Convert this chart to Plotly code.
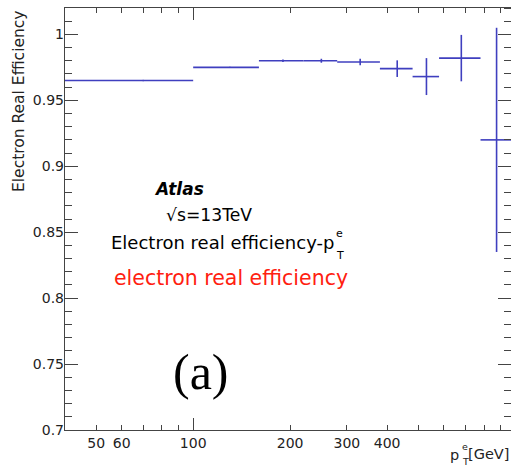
import math
import plotly.graph_objects as go

# Bin edges in electron pT [GeV] and the measured real efficiency per bin
pt_edges = [40, 100, 160, 220, 280, 380, 480, 580, 780, 970]
efficiency = [0.965, 0.975, 0.980, 0.980, 0.979, 0.974, 0.968, 0.982, 0.920]
eff_error = [0.0005, 0.0005, 0.001, 0.0015, 0.0025, 0.0063, 0.014, 0.0176, 0.085]

x_ticks = [50, 60, 70, 80, 90, 100, 200, 300, 400, 500, 600, 700, 800, 900]
x_labeled = [50, 60, 100, 200, 300, 400]
y_major = [0.7, 0.75, 0.8, 0.85, 0.9, 0.95, 1.0]
y_labels = ["0.7", "0.75", "0.8", "0.85", "0.9", "0.95", "1"]
y_minor = [round(0.70 + 0.01 * i, 2) for i in range(33)]

W, H = 512, 472
ML, MR, MT, MB = 65, 1, 8, 42
PW, PH = W - ML - MR, H - MT - MB

FONT = "DejaVu Sans"
BLUE = "#3f3fbf"
AXC = "#444444"


def px(x):
    return (x - ML) / PW


def py(y):
    return (H - MB - y) / PH


lo = pt_edges[:-1]
hi = pt_edges[1:]
centers = [(a + b) / 2 for a, b in zip(lo, hi)]

fig = go.Figure()
fig.add_trace(go.Scatter(
    x=centers, y=efficiency, mode="markers",
    marker=dict(size=1, color=BLUE, opacity=0),
    error_x=dict(type="data", symmetric=False,
                 array=[h - c for h, c in zip(hi, centers)],
                 arrayminus=[c - l for c, l in zip(centers, lo)],
                 color=BLUE, thickness=1.6, width=0),
    error_y=dict(type="data", array=eff_error, color=BLUE,
                 thickness=1.6, width=0),
    showlegend=False, hoverinfo="skip",
))
# invisible helper points so the overlay axes get drawn
for xa, ya in (("x", "y2"), ("x", "y3"), ("x", "y4"), ("x", "y5"), ("x3", "y")):
    fig.add_trace(go.Scatter(x=[centers[0]], y=[efficiency[0]], xaxis=xa, yaxis=ya,
                             mode="markers", marker=dict(opacity=0),
                             showlegend=False, hoverinfo="skip"))

xr = [math.log10(pt_edges[0]), math.log10(pt_edges[-1])]
yr = [0.7, 1.02]

fig.update_layout(
    width=W, height=H,
    margin=dict(l=ML, r=MR, t=MT, b=MB),
    paper_bgcolor="white", plot_bgcolor="white",
    font=dict(family=FONT, size=14, color="black"),
    xaxis=dict(
        type="log", range=xr, showgrid=False, zeroline=False,
        showline=True, linecolor=AXC, linewidth=1, mirror="ticks",
        ticks="inside", ticklen=5, tickcolor=AXC, tickwidth=1,
        tickmode="array", tickvals=x_ticks,
        ticktext=[str(v) if v in x_labeled else "" for v in x_ticks],
        tickfont=dict(family=FONT, size=14, color="#222"),
    ),
    xaxis3=dict(
        type="log", range=xr, overlaying="x", showgrid=False, zeroline=False,
        showline=False, mirror="ticks", ticks="inside", ticklen=12,
        tickcolor=AXC, tickmode="array", tickvals=[100],
        showticklabels=False,
    ),
    # small ticks every 0.01 with labels
    yaxis=dict(
        range=yr, showgrid=False, zeroline=False, showline=False,
        ticks="inside", ticklen=7, tickcolor=AXC,
        tickmode="array", tickvals=y_minor,
        ticktext=[y_labels[y_major.index(v)] if v in y_major else ""
                  for v in y_minor],
        tickfont=dict(family=FONT, size=14, color="#222"),
    ),
    # long ticks every 0.05 on the left
    yaxis3=dict(
        range=yr, overlaying="y", side="left", showgrid=False,
        zeroline=False, showline=False, ticks="inside",
        ticklen=13, tickcolor=AXC, tickmode="array", tickvals=y_major,
        showticklabels=False,
    ),
    # left frame line
    yaxis4=dict(
        range=yr, overlaying="y", side="left", showgrid=False,
        zeroline=False, showline=True, linecolor=AXC, linewidth=1,
        ticks="", showticklabels=False,
    ),
    # tick marks along the right edge (long and short)
    yaxis2=dict(
        range=yr, overlaying="y", anchor="free", position=1.0, side="left",
        showgrid=False, zeroline=False, showline=False, ticks="outside",
        ticklen=13, tickcolor=AXC, tickmode="array", tickvals=y_major,
        showticklabels=False,
    ),
    yaxis5=dict(
        range=yr, overlaying="y", anchor="free", position=1.0, side="left",
        showgrid=False, zeroline=False, showline=False, ticks="outside",
        ticklen=7, tickcolor=AXC, tickmode="array", tickvals=y_minor,
        showticklabels=False,
    ),
)


def text(s, x, y, size, xanchor="left", yanchor="middle", color="black",
         family=FONT, angle=0):
    fig.add_annotation(
        text=s, x=px(x), y=py(y), xref="paper", yref="paper",
        xanchor=xanchor, yanchor=yanchor, showarrow=False,
        textangle=angle, font=dict(family=family, size=size, color=color),
    )


# axis titles
text("Electron Real Efficiency", 19, 101, 15.5, xanchor="center", angle=-90,
     color="#222")
text("[GeV]", 511, 454, 14.5, xanchor="right", color="#222")
text("p", 461, 455, 14.5, xanchor="right", color="#222")
text("e", 460, 446, 9.5, color="#222")
text("T", 460, 462, 9.5, color="#222")

# labels inside the frame
text("<b><i>Atlas</i></b>", 152, 189, 17)
text("√s=13TeV", 164, 215, 17.2)
text("Electron real efficiency-p", 109, 242, 18)
text("e", 334, 233, 11)
text("T", 334, 255, 11)
text("electron real efficiency", 112, 278, 20.5, color="#ff2010")
text("(a)", 201, 372, 50, xanchor="center", family="Liberation Serif")

fig.write_html("out.html")
